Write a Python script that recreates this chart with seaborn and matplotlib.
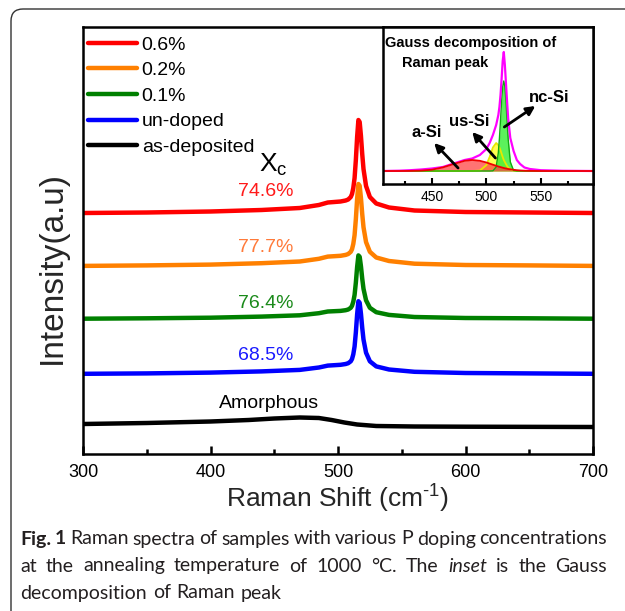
import numpy as np
import pandas as pd
import matplotlib
matplotlib.use('Agg')
import matplotlib.pyplot as plt
import seaborn as sns
from matplotlib.patches import FancyBboxPatch

# ---- main spectra (intensity in arbitrary units, already offset) ----
shift = [300, 350, 400, 440, 470, 485, 492, 497, 502, 506, 508, 510, 511, 512, 513,
         514, 515, 516, 517, 518, 519, 520, 522, 525, 530, 540, 560, 600, 650, 700]
int_06 = [241, 241.5, 242.5, 244, 246, 249, 251.5, 252, 252.5, 253.5, 254.5, 257, 260, 266, 276,
          294, 317, 334, 332, 318, 300, 285, 268, 257, 250.5, 246.5, 243.5, 242, 241.5, 241]
int_02 = [188.1, 188.6, 189.4, 190.8, 192.5, 195.2, 197.4, 197.8, 198.2, 199.1, 200, 202.2, 204.8, 210.1, 218.9,
          234.8, 255, 270, 268.2, 255.9, 240, 226.8, 211.9, 202.2, 196.5, 193, 190.3, 189, 188.6, 188.1]
int_01 = [135.3, 135.7, 136.3, 137.4, 138.7, 140.8, 142.5, 142.8, 143.1, 143.8, 144.5, 146.2, 148.2, 152.3, 159.1,
          171.4, 187, 198.6, 197.2, 187.7, 175.4, 165.2, 153.7, 146.2, 141.8, 139.1, 137, 136, 135.7, 135.3]
int_undoped = [80.2, 80.6, 81.4, 82.6, 84.1, 86.5, 88.4, 88.8, 89.2, 90, 90.8, 92.7, 95, 99.7, 107.5,
               121.6, 139.5, 152.8, 151.2, 140.3, 126.2, 114.5, 101.3, 92.7, 87.6, 84.5, 82.2, 81, 80.6, 80.2]
amorph_shift = [300, 350, 400, 430, 450, 470, 485, 495, 505, 515, 530, 560, 600, 700]
int_asdep = [30, 31, 32.5, 34, 35.5, 36.5, 36, 34, 31.5, 29.5, 28, 27.5, 27.3, 27]

samples = ['0.6%', '0.2%', '0.1%', 'un-doped', 'as-deposited']
colors = ['#ff0000', '#ff8000', '#008000', '#0000ff', '#000000']
xc_labels = ['74.6%', '77.7%', '76.4%', '68.5%']
xc_colors = ['#ff1a1a', '#ff7a3a', '#1a8a1a', '#1a1aff']
xc_y = [262, 206, 151, 99]

# ---- inset: Gauss decomposition ----
inset_shift = [405, 420, 430, 440, 450, 460, 470, 480, 487, 494, 500, 503, 506, 509, 511, 512, 513,
               514, 515, 516, 517, 518, 519, 520, 522, 525, 528, 531, 535, 540, 550, 570, 598]
measured = [0, 0.3, 0.8, 1.5, 2.5, 4, 7.5, 11, 12.5, 16, 22, 28, 36, 46, 56, 64, 76,
            92, 110, 119, 106, 88, 70, 53, 33, 20, 11, 7, 3.5, 2, 0.8, 0.2, 0]
a_si = [0, 0, 0.1, 0.4, 1.3, 3.6, 7.0, 10.2, 11, 10.2, 8.5, 7.4, 6.3, 5.2, 4.5, 4.2, 3.9,
        3.6, 3.3, 3.0, 2.7, 2.5, 2.3, 2.0, 1.7, 1.2, 0.8, 0.55, 0.3, 0.15, 0, 0, 0]
us_si = [0, 0, 0, 0, 0, 0, 0, 0, 0, 0.4, 5.9, 14, 23.5, 28, 25.9, 23.5, 20.6,
         17.3, 14, 11, 9, 7, 5, 3.6, 1.8, 0.5, 0, 0, 0, 0, 0, 0, 0]
nc_si = [0, 0, 0, 0, 0, 0, 0, 0, 0, 0, 0, 0, 0.15, 4, 18.3, 32.5, 50.7,
         69.7, 84.4, 90, 84.4, 69.7, 50.7, 32.5, 9.1, 0.5, 0, 0, 0, 0, 0, 0, 0]
inset_base = 13

W, H = 625, 611

sns.set_theme(style='ticks')
plt.rcParams['font.family'] = ['Liberation Sans', 'DejaVu Sans']
plt.rcParams['mathtext.fontset'] = 'custom'
plt.rcParams['mathtext.rm'] = 'Liberation Sans'
plt.rcParams['axes.edgecolor'] = 'black'
plt.rcParams['text.color'] = 'black'
plt.rcParams['xtick.color'] = 'black'

fig = plt.figure(figsize=(W / 100, H / 100), dpi=100)

# rounded frame around figure + caption
frame = FancyBboxPatch((0.11, -0.3), 7.0, 6.02 + 0.3, boxstyle='round,pad=0,rounding_size=0.12',
                       transform=fig.dpi_scale_trans, fc='none', ec='#333333', lw=1.0)
fig.patches.append(frame)

ax = fig.add_axes([83 / W, 1 - 454 / H, 510 / W, 427 / H])

df = pd.DataFrame({'shift': shift * 4,
                   'intensity': int_06 + int_02 + int_01 + int_undoped,
                   'sample': np.repeat(samples[:4], len(shift))})
df = pd.concat([df, pd.DataFrame({'shift': amorph_shift, 'intensity': int_asdep,
                                  'sample': samples[4]})], ignore_index=True)

sns.lineplot(data=df, x='shift', y='intensity', hue='sample', hue_order=samples,
             palette=colors, lw=3.2, ax=ax, sort=True, estimator=None)
for ln in ax.get_lines():
    ln.set_solid_joinstyle('round')
    ln.set_solid_capstyle('round')

ax.set_xlim(300, 700)
ax.set_ylim(0, 427)
ax.set_yticks([])
ax.set_xticks([300, 400, 500, 600, 700])
ax.set_xticks([350, 450, 550, 650], minor=True)
ax.tick_params(axis='x', which='major', direction='in', length=6, width=1.8, labelsize=13, pad=7)
ax.tick_params(axis='x', which='minor', direction='in', length=3.5, width=1.8)
for sp in ax.spines.values():
    sp.set_linewidth(1.8)
    sp.set_visible(True)
ax.set_xlabel('Raman Shift (cm$^{\\text{-}\\mathregular{1}}$)', fontsize=19, labelpad=0)
ax.set_ylabel('Intensity(a.u)', fontsize=24)
ax.yaxis.set_label_coords(-0.03, 0.436)

leg = ax.legend(loc='upper left', bbox_to_anchor=(0.0098, 0.979), frameon=False, fontsize=14,
                handlelength=2.5, handletextpad=0.26, labelspacing=0.41, borderpad=0, borderaxespad=0)
for h in leg.get_lines():
    h.set_linewidth(3.2)

for lab, c, y in zip(xc_labels, xc_colors, xc_y):
    ax.text(443.5, y, lab, color=c, fontsize=14, ha='center', va='center')
ax.text(449, 289, 'X$_\\mathregular{c}$', fontsize=19, ha='center', va='center')
ax.text(446, 51, 'Amorphous', fontsize=14, ha='center', va='center')

# ---- inset ----
ax2 = fig.add_axes([383 / W, 1 - 184 / H, 210 / W, 157 / H])
base = np.full(len(inset_shift), inset_base)
ax2.fill_between(inset_shift, base, base + np.array(us_si), color='#ffff33', alpha=0.85, lw=0)
ax2.fill_between(inset_shift, base, base + np.array(nc_si), color='#33ee33', alpha=0.8, lw=0)
ax2.fill_between(inset_shift, base, base + np.array(a_si), color='#ff4444', alpha=0.75, lw=0)
sns.lineplot(x=inset_shift, y=base + np.array(us_si), color='#e8e800', lw=1.3, ax=ax2)
sns.lineplot(x=inset_shift, y=base + np.array(nc_si), color='#11aa11', lw=1.0, ax=ax2)
sns.lineplot(x=inset_shift, y=base + np.array(measured), color='#ff00ff', lw=1.6, ax=ax2)
sns.lineplot(x=inset_shift, y=base + np.array(a_si), color='#ee0000', lw=1.3, ax=ax2)

ax2.set_xlim(405, 598)
ax2.set_ylim(0, 157)
ax2.set_yticks([])
ax2.set_xticks([450, 500, 550])
ax2.set_xticks([425, 475, 525, 575], minor=True)
ax2.tick_params(axis='x', which='major', direction='in', length=4, width=1.5, labelsize=10, pad=4)
ax2.tick_params(axis='x', which='minor', direction='in', length=2.5, width=1.5)
for sp in ax2.spines.values():
    sp.set_linewidth(1.8)
    sp.set_visible(True)

ax2.text(407, 141, 'Gauss decomposition of', fontsize=10.5, fontweight='bold', ha='left', va='center')
ax2.text(422.4, 121, 'Raman peak', fontsize=10.5, fontweight='bold', ha='left', va='center')
arrow = dict(arrowstyle='-|>', color='black', lw=2, mutation_scale=13, shrinkA=0, shrinkB=0)
ax2.annotate('', xy=(452, 41), xytext=(474, 16), arrowprops=arrow)
ax2.annotate('', xy=(487, 52), xytext=(508.3, 26), arrowprops=arrow)
ax2.annotate('', xy=(545, 78), xytext=(516.5, 57), arrowprops=arrow)
ax2.text(445, 51, 'a-Si', fontsize=12, fontweight='bold', ha='center', va='center')
ax2.text(484.4, 62, 'us-Si', fontsize=12, fontweight='bold', ha='center', va='center')
ax2.text(557.8, 87, 'nc-Si', fontsize=12, fontweight='bold', ha='center', va='center')

# ---- caption, justified word by word ----
cap_lines = [
    ([('Fig.', 'bold'), ('1', 'bold'), ('Raman', ''), ('spectra', ''), ('of', ''), ('samples', ''),
      ('with', ''), ('various', ''), ('P', ''), ('doping', ''), ('concentrations', '')], 539, True),
    ([('at', ''), ('the', ''), ('annealing', ''), ('temperature', ''), ('of', ''), ('1000', ''),
      ('°C.', ''), ('The', ''), ('inset', 'italic'), ('is', ''), ('the', ''), ('Gauss', '')], 566, True),
    ([('decomposition', ''), ('of', ''), ('Raman', ''), ('peak', '')], 593, False),
]
renderer = fig.canvas.get_renderer()
x_left, x_right = 20, 607
for words, y_px, justify in cap_lines:
    texts = []
    for w, style in words:
        t = fig.text(0, 1 - y_px / H, w, fontsize=14, family=['Lato', 'DejaVu Sans'], color='#231f20',
                     fontweight='bold' if style == 'bold' else 'normal',
                     fontstyle='italic' if style == 'italic' else 'normal', ha='left', va='center')
        texts.append(t)
    widths = [t.get_window_extent(renderer).width for t in texts]
    gap = (x_right - x_left - sum(widths)) / (len(words) - 1) if justify else 6
    x = x_left
    for t, w in zip(texts, widths):
        t.set_x(x / W)
        x += w + gap

fig.savefig('out.png', dpi=100)
